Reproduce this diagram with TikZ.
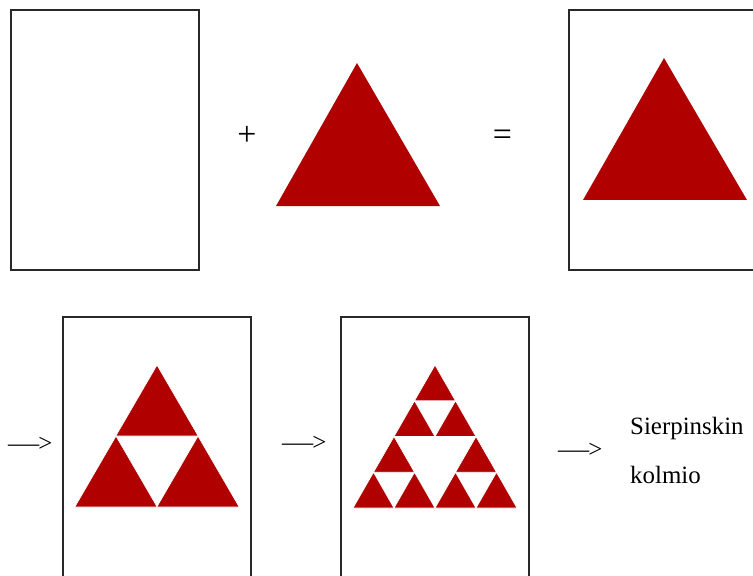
\documentclass[tikz,border=0pt]{standalone}
\usepackage{fontspec}
\usepackage{graphicx}
\setmainfont{Liberation Serif}
\definecolor{tri}{RGB}{176,0,0}
\definecolor{boxline}{RGB}{40,40,40}
\newcommand{\mytri}[4]{\path[redtri] (#1,#2) -- ++({-(#3)/2},#4) -- ++(#3,0) -- cycle;}
\newcommand{\myarrow}{\scalebox{1.25}[1]{—}\kern-1pt>}
\begin{document}
\begin{tikzpicture}[x=1bp,y=-1bp,
  frame/.style={draw=boxline,line width=1.3bp},
  redtri/.style={fill=tri,draw=white,line width=0.7bp,line join=miter},
  bigtri/.style={fill=tri},
  label/.style={inner sep=0pt,font=\fontsize{25}{30}\selectfont},
  sym/.style={inner sep=0pt,font=\fontsize{34}{40}\selectfont}]
\useasboundingbox (0,0) rectangle (753,576);
\clip (0,0) rectangle (753,576);
% top row
\draw[frame] (11,10) rectangle (199,270);
\fill[bigtri] (357,63) -- (276,206) -- (440,206) -- cycle;
\node[sym] (plus) at (247,136) {+};
\node[sym] (eq) at (502.5,137.5) {=};
\draw[frame] (569,10) rectangle (770,270);
\fill[bigtri] (664,58) -- (583,200) -- (747,200) -- cycle;
% bottom row
\node[label,anchor=base west] (arr1) at (8,451) {\myarrow};
\draw[frame] (63,317) rectangle (251,590);
% level 1
\mytri{157}{365}{82.5}{71}
\mytri{116}{436}{82.5}{71}
\mytri{198}{436}{82.5}{71}
\node[label,anchor=base west] (arr2) at (282,450) {\myarrow};
\draw[frame] (341,317) rectangle (529,590);
% level 2 : apex (435,365), width 164, height 143
\foreach \px/\py in {435/365, 394/436.5, 476/436.5}{
  \mytri{\px}{\py}{41}{35.75}
  \mytri{\px-20.5}{\py+35.75}{41}{35.75}
  \mytri{\px+20.5}{\py+35.75}{41}{35.75}
}
\node[label,anchor=base west] (arr3) at (558,457) {\myarrow};
\node[label,anchor=base west] (t1) at (630,434) {Sierpinskin};
\node[label,anchor=base west] (t2) at (630,483) {kolmio};
\end{tikzpicture}
\end{document}
